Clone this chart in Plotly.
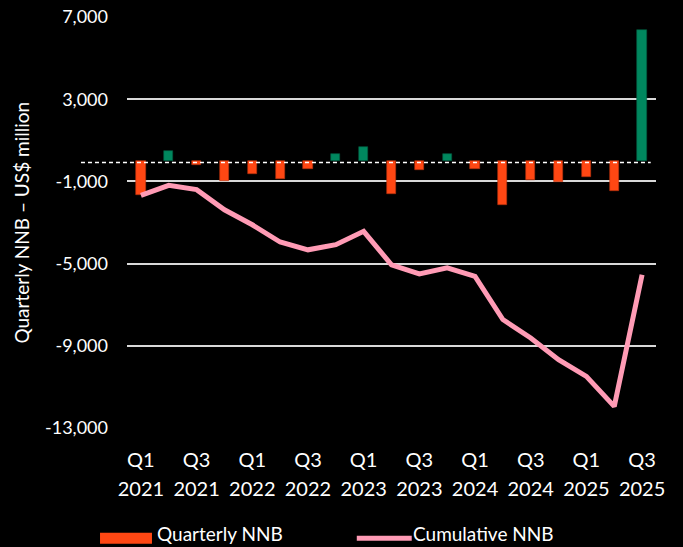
import plotly.graph_objects as go

quarters = ["Q1 2021", "Q2 2021", "Q3 2021", "Q4 2021",
            "Q1 2022", "Q2 2022", "Q3 2022", "Q4 2022",
            "Q1 2023", "Q2 2023", "Q3 2023", "Q4 2023",
            "Q1 2024", "Q2 2024", "Q3 2024", "Q4 2024",
            "Q1 2025", "Q2 2025", "Q3 2025"]
quarterly_nnb = [-1650, 490, -190, -1000, -660, -880, -410, 330, 690,
                 -1630, -440, 350, -380, -2160, -920, -1010, -790, -1460, 6390]
cumulative_nnb = [-1680, -1190, -1400, -2380, -3110, -3950, -4330, -4080, -3430,
                  -5060, -5500, -5210, -5620, -7720, -8620, -9680, -10490, -11950, -5540]
tick_quarters = ["Q1", "Q3", "Q1", "Q3", "Q1", "Q3", "Q1", "Q3", "Q1", "Q3"]
tick_years = ["2021", "2021", "2022", "2022", "2023", "2023", "2024", "2024", "2025", "2025"]
y_ticks = [7000, 3000, -1000, -5000, -9000, -13000]
y_tick_labels = ["7,000", "3,000", "-1,000", "-5,000", "-9,000", "-13,000"]

RED = "#FF4713"
GREEN = "#00875E"
PINK = "#FF9BB5"
FONT = "Lato"

x_idx = list(range(len(quarters)))
tick_pos = x_idx[::2]
bar_colors = [GREEN if v > 0 else RED for v in quarterly_nnb]
bar_lines = ["#00593E" if v > 0 else "#B8330E" for v in quarterly_nnb]

fig = go.Figure()
fig.add_trace(go.Bar(
    x=x_idx, y=quarterly_nnb, width=0.33,
    marker=dict(color=bar_colors, line=dict(color=bar_lines, width=0.6)),
    name="Quarterly NNB", showlegend=False,
    hovertext=quarters,
))
fig.add_trace(go.Scatter(
    x=x_idx, y=cumulative_nnb, mode="lines",
    line=dict(color=PINK, width=5),
    name="Cumulative NNB", showlegend=False,
    hovertext=quarters,
))
# invisible trace to carry the year row axis
fig.add_trace(go.Scatter(
    x=x_idx, y=cumulative_nnb, mode="lines", xaxis="x2",
    line=dict(color="rgba(0,0,0,0)", width=0), showlegend=False, hoverinfo="skip",
))

# dashed zero line extending under tick labels
fig.add_shape(type="line", xref="paper", yref="y", x0=-0.087, x1=0.99, y0=-80, y1=-80,
              line=dict(color="white", width=1.5, dash="4px,3px"), layer="above")

# manual legend
fig.add_shape(type="rect", xref="paper", yref="paper",
              x0=(100 - 127) / 529.5, x1=(152 - 127) / 529.5,
              y0=(428.3 - 544) / 411, y1=(428.3 - 533) / 411,
              fillcolor=RED, line=dict(width=0))
fig.add_annotation(xref="paper", yref="paper", x=(155 - 127) / 529.5,
                   y=(428.3 - 547) / 411, text="Quarterly NNB", showarrow=False,
                   xanchor="left", yanchor="bottom",
                   font=dict(family=FONT, size=19, color="white"))
fig.add_shape(type="line", xref="paper", yref="paper",
              x0=(357 - 127) / 529.5, x1=(412 - 127) / 529.5,
              y0=(428.3 - 538.5) / 411, y1=(428.3 - 538.5) / 411,
              line=dict(color=PINK, width=5))
fig.add_annotation(xref="paper", yref="paper", x=(411 - 127) / 529.5,
                   y=(428.3 - 547) / 411, text="Cumulative NNB", showarrow=False,
                   xanchor="left", yanchor="bottom",
                   font=dict(family=FONT, size=19, color="white"))

# y-axis title
fig.add_annotation(xref="paper", yref="paper", x=(21 - 127) / 529.5, y=0.5,
                   text="Quarterly NNB – US$ million", textangle=-90, showarrow=False,
                   xanchor="center", yanchor="middle",
                   font=dict(family=FONT, size=19, color="white"))

fig.update_layout(
    width=683, height=547,
    margin=dict(l=127, r=26.5, t=17.3, b=118.7, autoexpand=False),
    paper_bgcolor="black", plot_bgcolor="black",
    font=dict(family=FONT, color="white"),
    bargap=0,
    xaxis=dict(
        range=[-0.5, 18.5], tickmode="array",
        tickvals=tick_pos, ticktext=tick_quarters,
        tickfont=dict(family=FONT, size=20, color="white"),
        showgrid=False, zeroline=False, showline=False, ticks="",
        ticklabelstandoff=18, automargin=False,
    ),
    xaxis2=dict(
        range=[-0.5, 18.5], tickmode="array", overlaying="x", side="bottom",
        anchor="y", matches="x",
        tickvals=tick_pos, ticktext=tick_years,
        tickfont=dict(family=FONT, size=20, color="white"),
        showgrid=False, zeroline=False, showline=False, ticks="",
        ticklabelstandoff=47, automargin=False,
    ),
    yaxis=dict(
        range=[-13000, 7000], tickmode="array", tickvals=y_ticks, ticktext=y_tick_labels,
        tickfont=dict(family=FONT, size=18, color="white"),
        showgrid=True, gridcolor="#D9D9D9", gridwidth=2,
        zeroline=False, showline=False, ticks="",
        ticklabelstandoff=18, automargin=False,
    ),
)

fig.write_html("out.html", config={"displayModeBar": False},
               post_script="document.body.style.margin='0';document.body.style.background='black';")
